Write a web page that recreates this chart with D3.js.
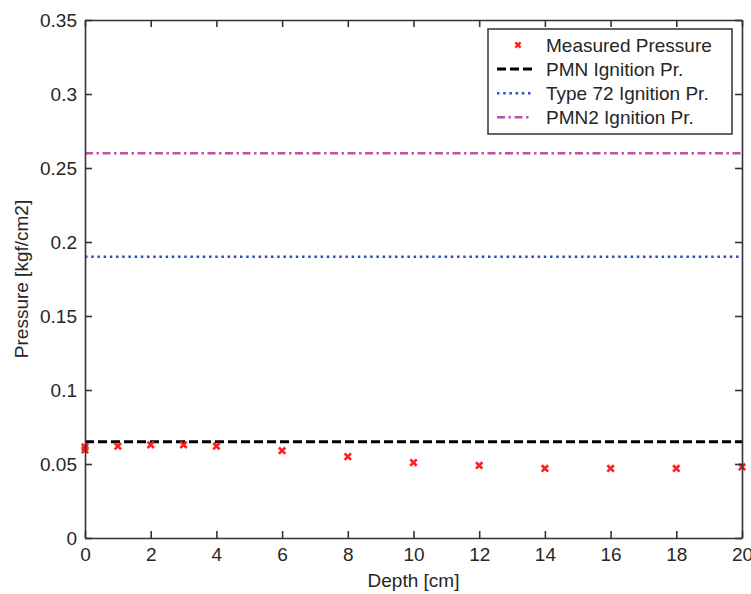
<!DOCTYPE html>
<html>
<head>
<meta charset="utf-8">
<script src="https://cdn.jsdelivr.net/npm/d3@7"></script>
<style>
  html, body { margin: 0; padding: 0; background: #fff; }
  svg text { font-family: "Liberation Sans", Arial, sans-serif; fill: #262626; }
</style>
</head>
<body>
<svg id="chart" width="751" height="594"></svg>
<script>
// Measured soil pressure vs. depth, with mine ignition thresholds
const depths    = [0, 0, 1, 2, 3, 4, 6, 8, 10, 12, 14, 16, 18, 20];
const pressures = [0.0615, 0.0595, 0.062, 0.063, 0.063, 0.062, 0.059, 0.055, 0.051, 0.049, 0.047, 0.047, 0.047, 0.048];

const thresholdNames  = ["PMN Ignition Pr.", "Type 72 Ignition Pr.", "PMN2 Ignition Pr."];
const thresholdValues = [0.065, 0.19, 0.26];
const thresholdColors = ["#000000", "#2f50b8", "#c050aa"];
const thresholdDashes = ["9,4", "2.5,3.7", "8,3.5,2.5,3.5"];

const xTicks = [0, 2, 4, 6, 8, 10, 12, 14, 16, 18, 20];
const yTicks = [0, 0.05, 0.1, 0.15, 0.2, 0.25, 0.3, 0.35];

const measuredName = "Measured Pressure";
const xLabel = "Depth [cm]";
const yLabel = "Pressure [kgf/cm2]";

const svg = d3.select("#chart");
const plotLeft = 85, plotRight = 742, plotTop = 20, plotBottom = 538;
const fontSize = 19;

const x = d3.scaleLinear().domain([0, 20]).range([plotLeft, plotRight]);
const y = d3.scaleLinear().domain([0, 0.35]).range([plotBottom, plotTop]);

svg.append("rect").attr("width", 751).attr("height", 594).attr("fill", "#fff");

// threshold lines
const tg = svg.append("g");
thresholdValues.forEach((v, i) => {
  tg.append("line")
    .attr("x1", x(0)).attr("x2", x(20))
    .attr("y1", y(v)).attr("y2", y(v))
    .attr("stroke", thresholdColors[i])
    .attr("stroke-width", i === 0 ? 3 : 2.6)
    .attr("stroke-dasharray", thresholdDashes[i]);
});

// measured points as x markers
const xMark = "M-3.2,-3.2L3.2,3.2M-3.2,3.2L3.2,-3.2";
svg.append("g").selectAll("path")
  .data(depths.map((d, i) => [d, pressures[i]]))
  .join("path")
  .attr("transform", d => `translate(${x(d[0])},${y(d[1])})`)
  .attr("d", xMark)
  .attr("stroke", "#ff1f1f")
  .attr("stroke-width", 2.6)
  .attr("fill", "none");

// axes (box with inward ticks)
const fmt = d => d === 0 ? "0" : String(+d.toFixed(2));
function styleAxis(g) {
  g.attr("font-size", fontSize).attr("font-family", null);
  g.selectAll("path.domain").attr("stroke", "#333").attr("stroke-width", 1.6);
  g.selectAll("line").attr("stroke", "#333").attr("stroke-width", 1.6);
  g.selectAll("text").attr("fill", "#262626");
}
svg.append("g").attr("transform", `translate(0,${plotBottom})`)
  .call(d3.axisBottom(x).tickValues(xTicks).tickFormat(fmt).tickSize(-7).tickSizeOuter(0).tickPadding(10))
  .call(styleAxis);
svg.append("g").attr("transform", `translate(0,${plotTop})`)
  .call(d3.axisTop(x).tickValues(xTicks).tickFormat("").tickSize(-7).tickSizeOuter(0))
  .call(styleAxis);
svg.append("g").attr("transform", `translate(${plotLeft},0)`)
  .call(d3.axisLeft(y).tickValues(yTicks).tickFormat(fmt).tickSize(-7).tickSizeOuter(0).tickPadding(8))
  .call(styleAxis);
svg.append("g").attr("transform", `translate(${plotRight},0)`)
  .call(d3.axisRight(y).tickValues(yTicks).tickFormat("").tickSize(-7).tickSizeOuter(0))
  .call(styleAxis);

// axis titles
svg.append("text")
  .attr("x", (plotLeft + plotRight) / 2).attr("y", 587)
  .attr("text-anchor", "middle").attr("font-size", fontSize)
  .text(xLabel);
svg.append("text")
  .attr("transform", `translate(28,${(plotTop + plotBottom) / 2}) rotate(-90)`)
  .attr("text-anchor", "middle").attr("font-size", fontSize)
  .text(yLabel);

// legend
const lg = svg.append("g");
lg.append("rect")
  .attr("x", 488).attr("y", 29).attr("width", 244).attr("height", 105)
  .attr("fill", "#fff").attr("stroke", "#333").attr("stroke-width", 1.5);
const rowY = i => 45 + i * 24.1;
const legendNames = [measuredName].concat(thresholdNames);
legendNames.forEach((name, i) => {
  const ry = rowY(i);
  if (i === 0) {
    lg.append("path")
      .attr("transform", `translate(518,${ry})`)
      .attr("d", "M-2.6,-2.6L2.6,2.6M-2.6,2.6L2.6,-2.6")
      .attr("stroke", "#ff1f1f").attr("stroke-width", 2.4);
  } else {
    lg.append("line")
      .attr("x1", 497).attr("x2", 532).attr("y1", ry).attr("y2", ry)
      .attr("stroke", thresholdColors[i - 1])
      .attr("stroke-width", i === 1 ? 3 : 2.6)
      .attr("stroke-dasharray", thresholdDashes[i - 1]);
  }
  lg.append("text")
    .attr("x", 546).attr("y", ry).attr("dy", "0.36em")
    .attr("font-size", fontSize)
    .text(name);
});
</script>
</body>
</html>
